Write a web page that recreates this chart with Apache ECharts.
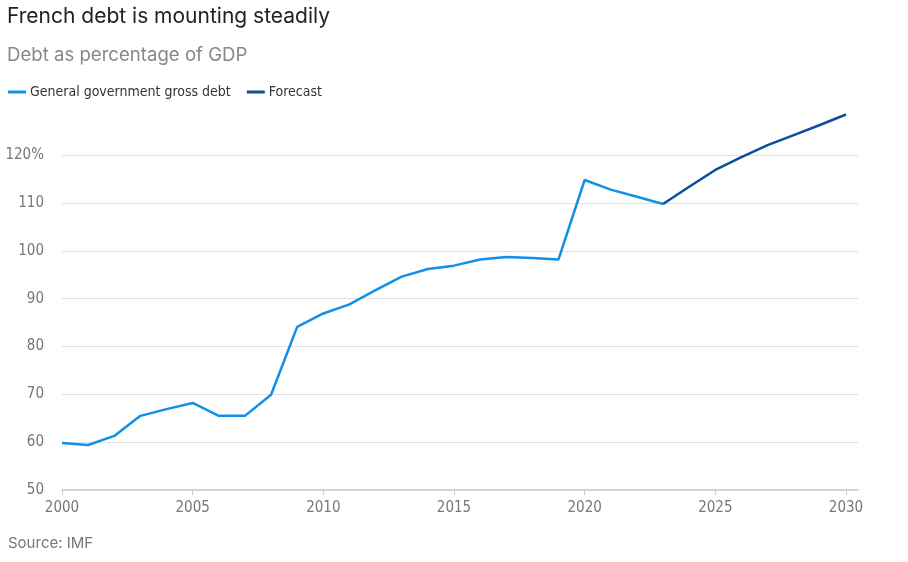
<!DOCTYPE html>
<html><head><meta charset="utf-8">
<script src="https://cdn.jsdelivr.net/npm/echarts@6/dist/echarts.min.js"></script>
<style>html,body{margin:0;padding:0;background:#fff}#c{width:908px;height:562px}</style>
</head><body><div id="c"></div>
<script>
const years = [2000,2001,2002,2003,2004,2005,2006,2007,2008,2009,2010,2011,2012,2013,2014,2015,2016,2017,2018,2019,2020,2021,2022,2023];
const debt = [59.8,59.4,61.3,65.5,66.9,68.2,65.5,65.5,69.9,84.1,86.9,88.8,91.8,94.6,96.2,96.9,98.2,98.7,98.5,98.2,114.8,112.8,111.3,109.8];
const forecastYears = [2023,2024,2025,2026,2027,2028,2029,2030];
const forecast = [109.8,113.4,116.9,119.6,122.1,124.2,126.3,128.5];
const xTicks = [2000,2005,2010,2015,2020,2025,2030];
const yTicks = [50,60,70,80,90,100,110,120];

const cond = '"Liberation Sans Narrow","DejaVu Sans Condensed","Roboto",sans-serif';
const head = 'Inter,"Noto Sans",sans-serif';
const chart = echarts.init(document.getElementById('c'), null, {renderer:'canvas'});
chart.setOption({
  animation:false,
  backgroundColor:'#fff',
  title:[
    {text:'French debt is mounting steadily', left:2, top:1, textStyle:{fontFamily:head, fontSize:21, fontWeight:'normal', color:'#222'}},
    {text:'Debt as percentage of GDP', left:2, top:41, textStyle:{fontFamily:head, fontSize:18.6, fontWeight:'normal', color:'#888'}},
    {text:'Source: IMF', left:3, top:531, textStyle:{fontFamily:head, fontSize:15, fontWeight:'normal', color:'#777'}}
  ],
  legend:{
    left:3, top:80, itemWidth:18, itemHeight:3, itemGap:16, icon:'rect',
    textStyle:{fontFamily:cond, fontSize:14, color:'#333', padding:[0,0,0,-1]},
    data:['General government gross debt','Forecast']
  },
  grid:{left:62, right:50, top:107.3, bottom:72},
  xAxis:{
    type:'value', min:2000, max:2030.46,
    axisLine:{show:true, lineStyle:{color:'#d4d4d4', width:2}},
    axisTick:{show:true, customValues:xTicks, length:5, lineStyle:{color:'#ccc'}},
    axisLabel:{customValues:xTicks, color:'#777', fontFamily:cond, fontSize:15, margin:11, formatter:v=>String(v)},
    splitLine:{show:false}
  },
  yAxis:{
    type:'value', min:50, max:130, interval:10,
    axisLine:{show:false}, axisTick:{show:false},
    axisLabel:{color:'#777', fontFamily:cond, fontSize:15, margin:18,
      formatter:v=> v===120?'120%':(v>120?'':String(v))},
    splitLine:{show:true, lineStyle:{color:['#e0e0e0','#e0e0e0','#e0e0e0','#e0e0e0','#e0e0e0','#e0e0e0','#e0e0e0','#e0e0e0','rgba(0,0,0,0)'], width:1}}
  },
  series:[
    {name:'General government gross debt', type:'line', showSymbol:false, symbol:'none',
     data:years.map((y,i)=>[y,debt[i]]), lineStyle:{color:'#1190e8', width:2.5}, itemStyle:{color:'#1190e8'}, z:3},
    {name:'Forecast', type:'line', showSymbol:false, symbol:'none',
     data:forecastYears.map((y,i)=>[y,forecast[i]]), lineStyle:{color:'#0c4d9c', width:2.5}, itemStyle:{color:'#0c4d9c'}, z:4}
  ]
});
</script></body></html>
